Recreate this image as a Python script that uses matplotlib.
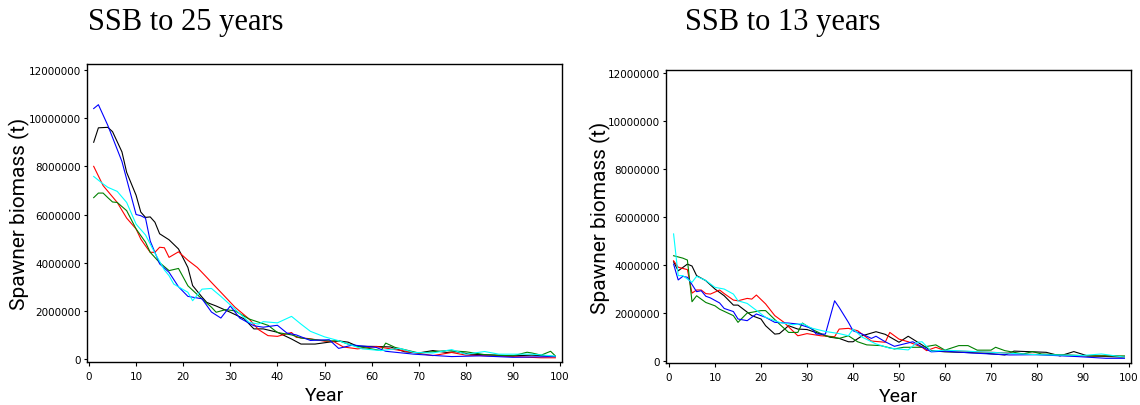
import matplotlib
matplotlib.use("Agg")
import matplotlib.pyplot as plt
from matplotlib.ticker import FuncFormatter

# spawner biomass per simulation run, in million tonnes (years since start)
# --- SSB to 25 years ---
black25_yr = [1, 2, 4, 5, 7, 8, 10, 11, 12, 13, 14, 15, 17, 19, 21, 22, 24, 25, 27, 30, 33, 35, 37, 40,
              43, 45, 48, 51, 53, 55, 57, 61, 64, 67, 70, 73, 76, 78, 81, 86, 90, 94, 97, 99]
black25 = [9.0, 9.6, 9.62, 9.44, 8.6, 7.75, 6.8, 6.1, 5.88, 5.9, 5.68, 5.2, 4.95, 4.57, 3.8, 3.05, 2.57,
           2.35, 2.2, 1.94, 1.66, 1.25, 1.25, 1.11, 0.83, 0.62, 0.62, 0.7, 0.75, 0.7, 0.53, 0.52, 0.5,
           0.3, 0.25, 0.35, 0.27, 0.3, 0.2, 0.16, 0.13, 0.16, 0.13, 0.1]

red25_yr = [1, 3, 6, 8, 10, 11, 12, 13, 14, 15, 16, 17, 19, 21, 23, 25, 26, 28, 31, 34, 36, 38, 40, 43,
            44, 47, 50, 52, 54, 57, 61, 64, 68, 73, 77, 80, 90, 96, 99]
red25 = [8.0, 7.2, 6.5, 5.85, 5.4, 4.98, 4.7, 4.43, 4.43, 4.64, 4.62, 4.22, 4.45, 4.1, 3.8, 3.39, 3.18,
         2.77, 2.15, 1.66, 1.22, 0.97, 0.94, 1.1, 0.9, 0.84, 0.74, 0.72, 0.5, 0.42, 0.52, 0.42, 0.3,
         0.14, 0.27, 0.16, 0.1, 0.05, 0.05]

green25_yr = [1, 2, 3, 4, 5, 6, 8, 10, 12, 13, 15, 17, 19, 21, 24, 26, 27, 29, 31, 34, 38, 40, 43, 45,
              48, 51, 53, 55, 57, 60, 62, 63, 65, 70, 76, 80, 84, 90, 93, 94, 96, 98, 99]
green25 = [6.7, 6.89, 6.89, 6.7, 6.52, 6.5, 6.16, 5.4, 4.85, 4.43, 4.0, 3.67, 3.76, 3.04, 2.49, 2.15,
           1.94, 2.05, 2.0, 1.66, 1.4, 1.1, 1.0, 0.87, 0.8, 0.75, 0.76, 0.62, 0.52, 0.42, 0.35, 0.66,
           0.48, 0.25, 0.35, 0.3, 0.18, 0.13, 0.28, 0.25, 0.16, 0.32, 0.13]

blue25_yr = [1, 2, 4, 7, 10, 11, 12, 13, 15, 17, 19, 21, 24, 26, 28, 30, 32, 35, 37, 40, 42, 44, 47, 51,
             53, 56, 61, 63, 69, 77, 83, 90, 99]
blue25 = [10.4, 10.56, 9.7, 8.2, 6.0, 5.95, 5.85, 4.9, 3.95, 3.6, 3.0, 2.6, 2.5, 1.95, 1.7, 2.2, 1.7,
          1.38, 1.32, 1.4, 1.08, 1.0, 0.77, 0.8, 0.44, 0.58, 0.48, 0.32, 0.2, 0.1, 0.13, 0.07, 0.1]

cyan25_yr = [1, 3, 4, 6, 8, 10, 12, 14, 16, 17, 18, 21, 22, 24, 26, 28, 31, 34, 36, 37, 40, 43, 45, 47,
             50, 53, 55, 58, 62, 66, 69, 73, 77, 80, 84, 87, 94, 99]
cyan25 = [7.58, 7.27, 7.13, 6.96, 6.5, 5.6, 5.15, 4.4, 3.7, 3.46, 3.11, 2.77, 2.42, 2.9, 2.93, 2.6,
          2.07, 1.52, 1.45, 1.55, 1.5, 1.77, 1.45, 1.15, 0.92, 0.76, 0.62, 0.42, 0.35, 0.44, 0.27,
          0.25, 0.39, 0.2, 0.31, 0.2, 0.2, 0.12]

# --- SSB to 13 years ---
black13_yr = [1, 2, 4, 5, 6, 8, 10, 12, 14, 15, 18, 20, 21, 23, 24, 26, 28, 30, 33, 35, 37, 39, 40, 42,
              45, 47, 50, 52, 55, 57, 60, 68, 73, 75, 82, 85, 88, 91, 99]
black13 = [4.13, 3.75, 4.03, 3.95, 3.55, 3.34, 2.99, 2.71, 2.32, 2.32, 1.88, 1.74, 1.46, 1.11, 1.13,
           1.46, 1.32, 1.3, 1.11, 0.98, 0.93, 0.79, 0.79, 1.04, 1.21, 1.1, 0.77, 1.02, 0.66, 0.42,
           0.37, 0.32, 0.24, 0.4, 0.35, 0.2, 0.38, 0.2, 0.15]

red13_yr = [1, 2, 4, 5, 6, 7, 8, 9, 11, 12, 14, 15, 17, 18, 19, 21, 23, 25, 28, 30, 33, 36, 37, 39, 41,
            44, 47, 48, 50, 52, 55, 56, 58, 60, 70, 74, 78, 92, 97, 99]
red13 = [4.17, 3.9, 3.8, 2.82, 2.95, 2.95, 2.8, 2.78, 2.95, 2.8, 2.53, 2.5, 2.6, 2.57, 2.74, 2.37, 1.88,
         1.6, 1.04, 1.13, 1.04, 1.0, 1.32, 1.35, 1.25, 0.82, 0.77, 1.18, 0.9, 0.79, 0.56, 0.42, 0.56,
         0.42, 0.35, 0.32, 0.27, 0.2, 0.21, 0.14]

green13_yr = [1, 2, 3, 4, 5, 6, 8, 10, 11, 14, 15, 17, 18, 20, 21, 24, 26, 28, 29, 31, 34, 37, 39, 41,
              43, 46, 49, 51, 55, 58, 60, 63, 65, 67, 70, 71, 73, 77, 79, 81, 91, 99]
green13 = [4.38, 4.33, 4.28, 4.2, 2.46, 2.71, 2.43, 2.29, 2.15, 1.88, 1.6, 1.99, 2.02, 2.09, 2.09, 1.53,
           1.18, 1.18, 1.57, 1.32, 1.04, 0.93, 1.04, 0.79, 0.66, 0.63, 0.49, 0.56, 0.56, 0.66, 0.44,
           0.63, 0.63, 0.44, 0.44, 0.56, 0.42, 0.28, 0.38, 0.28, 0.2, 0.2]

blue13_yr = [1, 2, 3, 4, 6, 7, 8, 9, 11, 12, 14, 15, 17, 19, 21, 23, 26, 28, 31, 32, 34, 36, 37, 39,
             40, 42, 44, 45, 47, 49, 53, 57, 60, 66, 74, 80, 89, 95, 99]
blue13 = [4.03, 3.37, 3.52, 3.48, 2.88, 2.92, 2.69, 2.62, 2.41, 2.18, 2.05, 1.74, 1.67, 1.95, 1.81,
          1.6, 1.57, 1.53, 1.35, 1.11, 1.11, 2.5, 2.22, 1.6, 1.25, 1.11, 0.93, 1.02, 0.79, 0.6, 0.79,
          0.37, 0.4, 0.32, 0.24, 0.25, 0.17, 0.1, 0.1]

cyan13_yr = [1, 2, 3, 5, 6, 8, 10, 12, 14, 15, 17, 21, 24, 27, 29, 31, 34, 37, 39, 40, 42, 45, 48, 52,
             54, 55, 57, 60, 70, 80, 90, 94, 99]
cyan13 = [5.29, 3.55, 3.55, 3.27, 3.52, 3.35, 3.06, 2.99, 2.78, 2.5, 2.39, 1.81, 1.6, 1.5, 1.55, 1.36,
          1.22, 1.13, 1.04, 1.32, 0.98, 0.7, 0.52, 0.45, 0.77, 0.79, 0.4, 0.44, 0.35, 0.25, 0.22,
          0.28, 0.15]

yticks = [0, 2000000, 4000000, 6000000, 8000000, 10000000, 12000000]
xticks = [0, 10, 20, 30, 40, 50, 60, 70, 80, 90, 100]

fig = plt.figure(figsize=(11.4, 4.06), dpi=100)
W, H = 1140, 406
label_font = dict(family=["Roboto", "DejaVu Sans"], weight="normal", color="black")


def panel(rect_px, xlim, ylim, runs, title, title_x):
    l, t, r, b = rect_px
    ax = fig.add_axes([l / W, (H - b) / H, (r - l) / W, (b - t) / H])
    for yrs, vals, col in runs:
        ax.plot(yrs, [v * 1e6 for v in vals], color=col, lw=0.8)
    ax.set_xlim(*xlim)
    ax.set_ylim(*ylim)
    ax.set_xticks(xticks)
    ax.set_yticks(yticks)
    ax.yaxis.set_major_formatter(FuncFormatter(lambda v, p: "%d" % v))
    ax.tick_params(axis="x", direction="out", length=3, width=0.8, pad=3.5, labelsize=7.5)
    ax.tick_params(axis="y", direction="out", length=2.5, width=0.8, pad=1.8, labelsize=7.5)
    for s in ax.spines.values():
        s.set_linewidth(1.0)
    ax.set_xlabel("Year", fontsize=14, **label_font)
    ax.set_ylabel("Spawner biomass (t)", fontsize=15, **label_font)
    ax.xaxis.set_label_coords(0.5, -0.111)
    ax.yaxis.set_label_coords(-0.142, 0.5)
    ax.xaxis.label.set_va("center")
    ax.yaxis.label.set_va("center")
    fig.text(title_x / W, (H - 30) / H, title, family="Liberation Serif", fontsize=22,
             va="baseline", ha="left")
    return ax


panel((87, 65, 562, 363), (-0.42, 100.42), (-125000, 12250000),
      [(black25_yr, black25, "black"), (red25_yr, red25, "red"), (green25_yr, green25, "green"),
       (blue25_yr, blue25, "blue"), (cyan25_yr, cyan25, "cyan")],
      "SSB to 25 years", 88)

panel((666, 71, 1131, 364), (-0.65, 100.43), (-96000, 12130000),
      [(black13_yr, black13, "black"), (red13_yr, red13, "red"), (green13_yr, green13, "green"),
       (blue13_yr, blue13, "blue"), (cyan13_yr, cyan13, "cyan")],
      "SSB to 13 years", 685)

fig.savefig("out.png", dpi=100)
